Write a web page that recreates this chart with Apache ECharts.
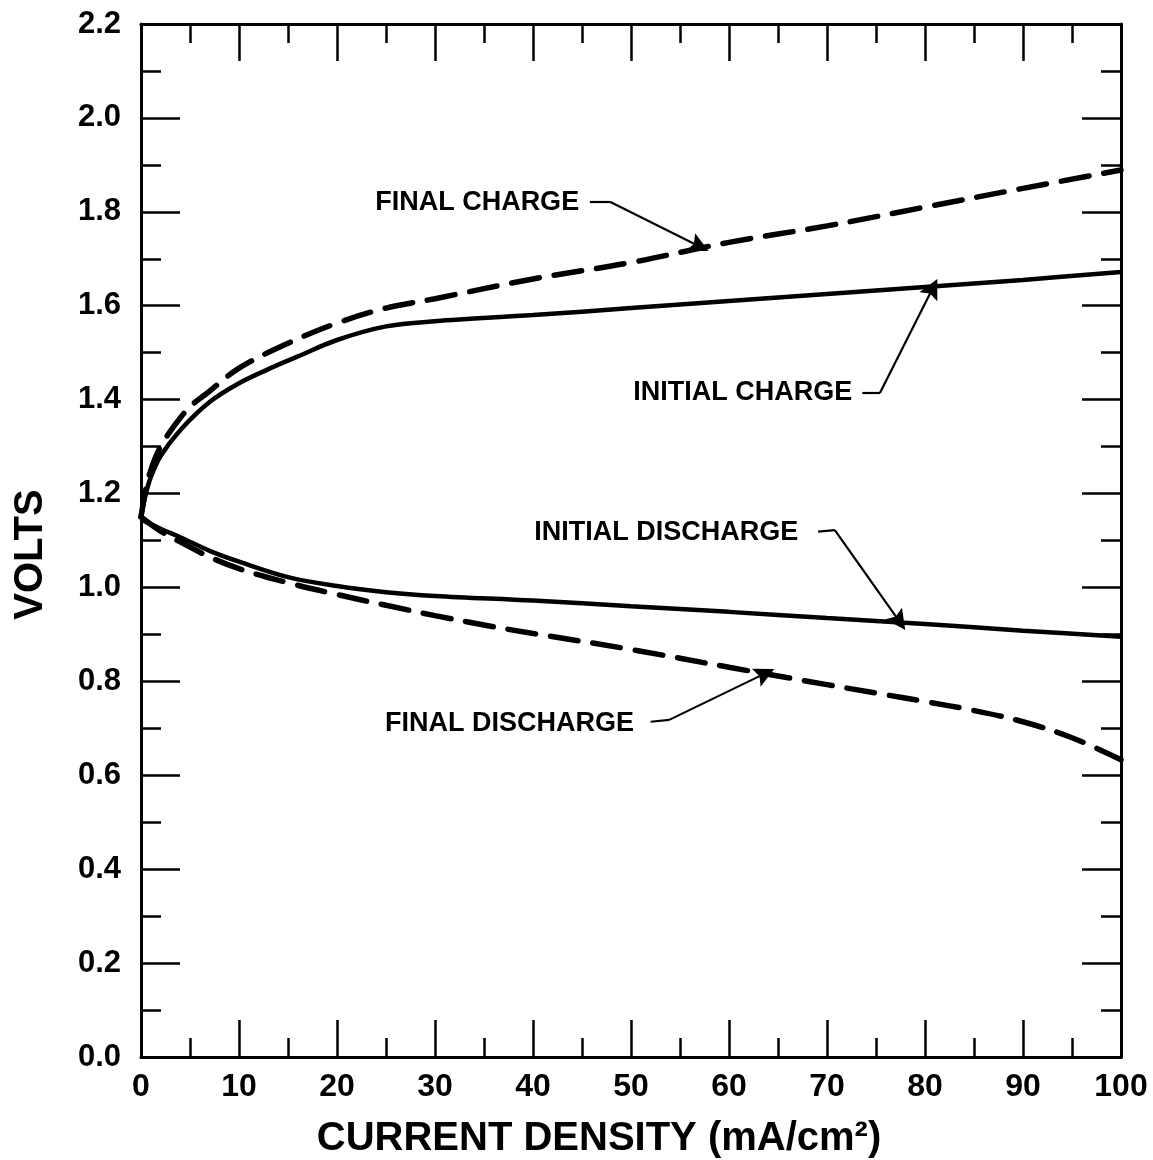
<!DOCTYPE html>
<html>
<head>
<meta charset="utf-8">
<script src="https://cdn.jsdelivr.net/npm/echarts@6/dist/echarts.min.js"></script>
<style>html,body{margin:0;padding:0;background:#fff}#c{width:1153px;height:1160px}</style>
</head>
<body>
<div id="c"></div>
<script>
// Data
const finalChargeX = [0, 0.5, 1, 2, 3.6, 5, 6.7, 10, 15, 20, 25, 30, 40, 50, 60, 70, 80, 90, 100];
const finalChargeY = [1.15, 1.21, 1.25, 1.30, 1.35, 1.385, 1.413, 1.467, 1.52, 1.563, 1.595, 1.615, 1.657, 1.692, 1.735, 1.77, 1.81, 1.85, 1.889];

const initialChargeX = [0, 0.5, 1, 2, 4, 7, 10, 13, 16, 20, 25, 30, 40, 50, 60, 70, 80, 90, 100];
const initialChargeY = [1.15, 1.2, 1.235, 1.28, 1.335, 1.395, 1.435, 1.465, 1.492, 1.527, 1.556, 1.567, 1.58, 1.595, 1.61, 1.625, 1.64, 1.655, 1.672];

const initialDischargeX = [0, 2, 4, 7, 10, 15, 20, 25, 30, 40, 50, 60, 70, 80, 90, 100];
const initialDischargeY = [1.145, 1.125, 1.107, 1.078, 1.055, 1.022, 1.003, 0.99, 0.982, 0.972, 0.96, 0.948, 0.935, 0.922, 0.908, 0.895];

const finalDischargeX = [0, 2, 4, 7, 10, 15, 20, 25, 30, 35, 40, 50, 60, 70, 75, 80, 85, 90, 95, 100];
const finalDischargeY = [1.15, 1.12, 1.097, 1.065, 1.04, 1.01, 0.985, 0.962, 0.94, 0.92, 0.902, 0.868, 0.83, 0.793, 0.775, 0.757, 0.738, 0.714, 0.68, 0.633];

const labelTexts = ['FINAL CHARGE', 'INITIAL CHARGE', 'INITIAL DISCHARGE', 'FINAL DISCHARGE'];
const labelX = [34.3, 61.4, 53.6, 37.6];
const labelY = [1.819, 1.416, 1.118, 0.711];
// leader lines: start, bend, arrow tip
const leaderStart = [[45.8, 1.821], [73.6, 1.414], [69.1, 1.119], [52.0, 0.714]];
const leaderBend  = [[47.9, 1.821], [75.4, 1.414], [70.8, 1.122], [53.9, 0.718]];
const leaderTip   = [[57.0, 1.726], [80.8, 1.638], [77.4, 0.927], [63.7, 0.817]];

const xTicks = [0, 10, 20, 30, 40, 50, 60, 70, 80, 90, 100];
const yTicks = ['0.0', '0.2', '0.4', '0.6', '0.8', '1.0', '1.2', '1.4', '1.6', '1.8', '2.0', '2.2'];

function zip(xs, ys) { return xs.map((x, i) => [x, ys[i]]); }

const FONT = 'Liberation Sans';
const chart = echarts.init(document.getElementById('c'), null, {renderer: 'canvas'});

const axisLineStyle = {color: '#000', width: 3};
const tickStyle = {color: '#000', width: 2.5};

function xAxisCfg(pos, showLabels) {
  return {
    type: 'value', position: pos, min: 0, max: 100, interval: 10,
    axisLine: {show: true, onZero: false, lineStyle: axisLineStyle},
    axisTick: {show: true, inside: true, length: 37, lineStyle: tickStyle},
    minorTick: {show: true, splitNumber: 2, length: 19, lineStyle: tickStyle},
    splitLine: {show: false},
    axisLabel: {show: showLabels, margin: 14, color: '#000', fontFamily: FONT, fontSize: 32, fontWeight: 'bold',
      formatter: v => xTicks.indexOf(v) >= 0 ? String(v) : ''},
    name: showLabels ? 'CURRENT DENSITY (mA/cm²)' : '',
    nameLocation: 'middle', nameGap: 62,
    nameTextStyle: {color: '#000', fontFamily: FONT, fontSize: 40, fontWeight: 'bold', padding: [0, 64, 0, 0]}
  };
}
function yAxisCfg(pos, showLabels) {
  return {
    type: 'value', position: pos, min: 0, max: 2.2, interval: 0.2,
    axisLine: {show: true, onZero: false, lineStyle: axisLineStyle},
    axisTick: {show: true, inside: true, length: 39, lineStyle: tickStyle},
    minorTick: {show: true, splitNumber: 2, length: 20, lineStyle: tickStyle},
    splitLine: {show: false},
    axisLabel: {show: showLabels, margin: 20, color: '#000', fontFamily: FONT, fontSize: 31, fontWeight: 'bold',
      formatter: v => yTicks[Math.round(v / 0.2)]},
    name: showLabels ? 'VOLTS' : '',
    nameLocation: 'middle', nameGap: 90, nameRotate: 90,
    nameTextStyle: {color: '#000', fontFamily: FONT, fontSize: 40, fontWeight: 'bold', padding: [0, 28, 0, 0]}
  };
}

const curveBase = {type: 'line', showSymbol: false, symbol: 'none', smooth: 0.35, z: 3};

const option = {
  animation: false,
  backgroundColor: '#fff',
  grid: {left: 141, right: 32, top: 24, bottom: 103, containLabel: false, outerBoundsMode: 'none'},
  xAxis: [xAxisCfg('bottom', true), xAxisCfg('top', false)],
  yAxis: [yAxisCfg('left', true), yAxisCfg('right', false)],
  series: [
    Object.assign({}, curveBase, {name: 'Final charge', data: zip(finalChargeX, finalChargeY),
      lineStyle: {color: '#000', width: 5.5, type: [28, 15], cap: 'round'}}),
    Object.assign({}, curveBase, {name: 'Initial charge', data: zip(initialChargeX, initialChargeY),
      lineStyle: {color: '#000', width: 4.5, type: 'solid'}}),
    Object.assign({}, curveBase, {name: 'Initial discharge', data: zip(initialDischargeX, initialDischargeY),
      lineStyle: {color: '#000', width: 4.5, type: 'solid'}}),
    Object.assign({}, curveBase, {name: 'Final discharge', data: zip(finalDischargeX, finalDischargeY),
      lineStyle: {color: '#000', width: 5.5, type: [28, 15], cap: 'round'}}),
    {
      type: 'lines', coordinateSystem: 'cartesian2d', z: 4,
      symbol: ['none', 'none'],
      lineStyle: {color: '#000', width: 2.2, opacity: 1},
      data: leaderStart.map((s, i) => ({coords: [s, leaderBend[i]]}))
    },
    {
      type: 'lines', coordinateSystem: 'cartesian2d', z: 4,
      symbol: ['none', 'path://M5,0 L10,22 L5,18 L0,22 Z'], symbolSize: [11, 20],
      lineStyle: {color: '#000', width: 2.2, opacity: 1},
      itemStyle: {color: '#000'},
      data: leaderBend.map((s, i) => ({coords: [s, leaderTip[i]]}))
    },
    {
      type: 'scatter', symbolSize: 0, z: 5,
      itemStyle: {opacity: 1},
      data: labelX.map((x, i) => [x, labelY[i], labelTexts[i]]),
      label: {show: true, position: 'inside', formatter: p => p.value[2], opacity: 1,
        color: '#000', fontFamily: FONT, fontSize: 27, fontWeight: 'bold', textBorderWidth: 0}
    }
  ]
};
chart.setOption(option);
</script>
</body>
</html>
